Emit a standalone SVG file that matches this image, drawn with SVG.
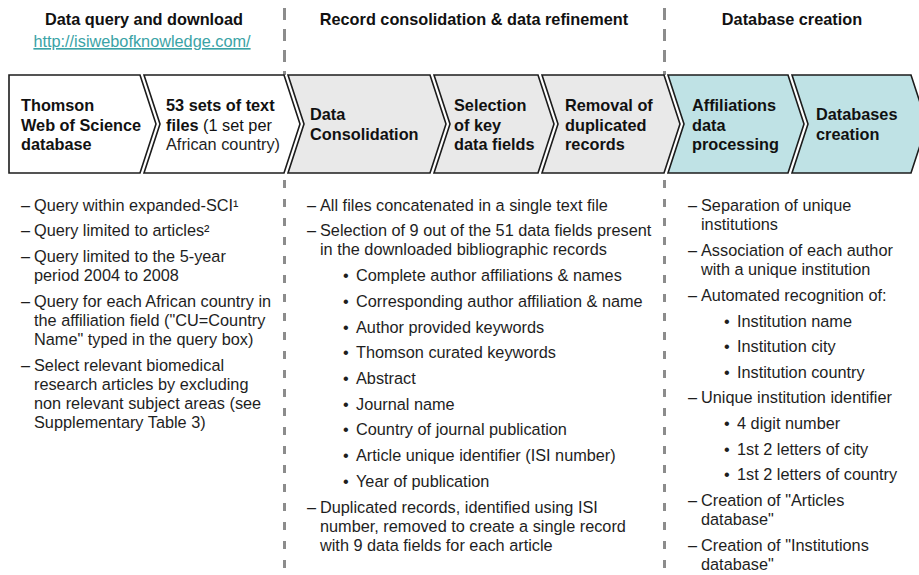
<svg xmlns="http://www.w3.org/2000/svg" width="919" height="575" viewBox="0 0 919 575">
  <style>
    text { font-family: "Liberation Sans", Arial, Helvetica, sans-serif; font-size: 16.3px; fill: #1e1e1e; }
    .hd { font-weight: bold; text-anchor: middle; fill: #111; }
    .link { fill: #3aa3a6; text-decoration: underline; text-anchor: middle; }
    .bx { font-weight: bold; fill: #111; }
    .nb { font-weight: normal; }
    .step { stroke: #1c1c1c; stroke-width: 1.6; stroke-linejoin: miter; }
    .white { fill: #ffffff; }
    .grey { fill: #e9e9e9; }
    .teal { fill: #bfe2e5; }
    .sep-top { stroke: #8c8c8c; stroke-width: 3; stroke-dasharray: 12 9; fill: none; }
    .sep-bot { stroke: #8c8c8c; stroke-width: 3; stroke-dasharray: 8 11; fill: none; }
  </style>

  <!-- phase separators -->
  <g id="separators">
    <line class="sep-top" x1="284.5" y1="8" x2="284.5" y2="75"/>
    <line class="sep-top" x1="664.5" y1="8" x2="664.5" y2="75"/>
    <line class="sep-bot" x1="284.5" y1="180" x2="284.5" y2="575"/>
    <line class="sep-bot" x1="664.5" y1="180" x2="664.5" y2="575"/>
  </g>

  <!-- phase headings -->
  <g id="headings">
    <text class="hd" x="144" y="25">Data query and download</text>
    <text class="link" x="142" y="47">http://isiwebofknowledge.com/</text>
    <text class="hd" x="474" y="25">Record consolidation &amp; data refinement</text>
    <text class="hd" x="792" y="25">Database creation</text>
  </g>

  <!-- chevron process steps -->
  <g id="step-wos">
    <polygon class="step white" points="9,75 140,75 156,124 140,173 9,173"/>
    <text class="bx" x="21" y="111">Thomson</text>
    <text class="bx" x="21" y="130.5">Web of Science</text>
    <text class="bx" x="21" y="150">database</text>
  </g>
  <g id="step-files">
    <polygon class="step white" points="144,75 284,75 300,124 284,173 144,173 160,124"/>
    <text class="bx" x="166" y="111">53 sets of text</text>
    <text class="bx" x="166" y="130.5">files<tspan class="nb"> (1 set per</tspan></text>
    <text x="166" y="150">African country)</text>
  </g>
  <g id="step-consolidation">
    <polygon class="step grey" points="288,75 430,75 446,124 430,173 288,173 304,124"/>
    <text class="bx" x="310" y="120">Data</text>
    <text class="bx" x="310" y="139.5">Consolidation</text>
  </g>
  <g id="step-selection">
    <polygon class="step grey" points="434,75 538,75 554,124 538,173 434,173 450,124"/>
    <text class="bx" x="454" y="111">Selection</text>
    <text class="bx" x="454" y="130.5">of key</text>
    <text class="bx" x="454" y="150">data fields</text>
  </g>
  <g id="step-dedup">
    <polygon class="step grey" points="542,75 664,75 680,124 664,173 542,173 558,124"/>
    <text class="bx" x="565" y="111">Removal of</text>
    <text class="bx" x="565" y="130.5">duplicated</text>
    <text class="bx" x="565" y="150">records</text>
  </g>
  <g id="step-affiliations">
    <polygon class="step teal" points="668,75 788,75 804,124 788,173 668,173 684,124"/>
    <text class="bx" x="692" y="111">Affiliations</text>
    <text class="bx" x="692" y="130.5">data</text>
    <text class="bx" x="692" y="150">processing</text>
  </g>
  <g id="step-databases">
    <polygon class="step teal" points="792,75 911,75 927,124 911,173 792,173 808,124"/>
    <text class="bx" x="816" y="120">Databases</text>
    <text class="bx" x="816" y="139.5">creation</text>
  </g>

  <!-- details: data query -->
  <g id="notes-query">
    <text x="21" y="211">–</text><text x="34" y="211">Query within expanded-SCI¹</text>
    <text x="21" y="236">–</text><text x="34" y="236">Query limited to articles²</text>
    <text x="21" y="262">–</text><text x="34" y="262">Query limited to the 5-year</text>
    <text x="34" y="281">period 2004 to 2008</text>
    <text x="21" y="307">–</text><text x="34" y="307">Query for each African country in</text>
    <text x="34" y="326">the affiliation field ("CU=Country</text>
    <text x="34" y="345">Name" typed in the query box)</text>
    <text x="21" y="371">–</text><text x="34" y="371">Select relevant biomedical</text>
    <text x="34" y="390">research articles by excluding</text>
    <text x="34" y="409">non relevant subject areas (see</text>
    <text x="34" y="428">Supplementary Table 3)</text>
  </g>

  <!-- details: consolidation and refinement -->
  <g id="notes-refinement">
    <text x="307" y="211">–</text><text x="320" y="211">All files concatenated in a single text file</text>
    <text x="307" y="236">–</text><text x="320" y="236">Selection of 9 out of the 51 data fields present</text>
    <text x="320" y="255">in the downloaded bibliographic records</text>
    <text x="343" y="281">•</text><text x="356" y="281">Complete author affiliations &amp; names</text>
    <text x="343" y="307">•</text><text x="356" y="307">Corresponding author affiliation &amp; name</text>
    <text x="343" y="333">•</text><text x="356" y="333">Author provided keywords</text>
    <text x="343" y="358">•</text><text x="356" y="358">Thomson curated keywords</text>
    <text x="343" y="384">•</text><text x="356" y="384">Abstract</text>
    <text x="343" y="410">•</text><text x="356" y="410">Journal name</text>
    <text x="343" y="435">•</text><text x="356" y="435">Country of journal publication</text>
    <text x="343" y="461">•</text><text x="356" y="461">Article unique identifier (ISI number)</text>
    <text x="343" y="487">•</text><text x="356" y="487">Year of publication</text>
    <text x="307" y="513">–</text><text x="320" y="513">Duplicated records, identified using ISI</text>
    <text x="320" y="532">number, removed to create a single record</text>
    <text x="320" y="551">with 9 data fields for each article</text>
  </g>

  <!-- details: database creation -->
  <g id="notes-database">
    <text x="688" y="211">–</text><text x="701" y="211">Separation of unique</text>
    <text x="701" y="230">institutions</text>
    <text x="688" y="256">–</text><text x="701" y="256">Association of each author</text>
    <text x="701" y="275">with a unique institution</text>
    <text x="688" y="301">–</text><text x="701" y="301">Automated recognition of:</text>
    <text x="724" y="327">•</text><text x="737" y="327">Institution name</text>
    <text x="724" y="352">•</text><text x="737" y="352">Institution city</text>
    <text x="724" y="378">•</text><text x="737" y="378">Institution country</text>
    <text x="688" y="403">–</text><text x="701" y="403">Unique institution identifier</text>
    <text x="724" y="429">•</text><text x="737" y="429">4 digit number</text>
    <text x="724" y="455">•</text><text x="737" y="455">1st 2 letters of city</text>
    <text x="724" y="480">•</text><text x="737" y="480">1st 2 letters of country</text>
    <text x="688" y="506">–</text><text x="701" y="506">Creation of "Articles</text>
    <text x="701" y="525">database"</text>
    <text x="688" y="551">–</text><text x="701" y="551">Creation of "Institutions</text>
    <text x="701" y="570">database"</text>
  </g>
</svg>
